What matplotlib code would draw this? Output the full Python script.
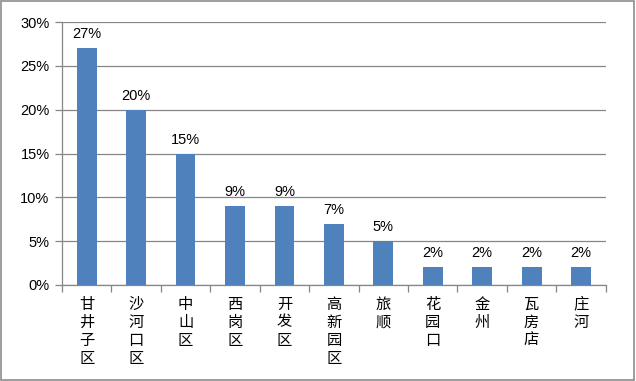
import matplotlib
matplotlib.use("Agg")
import matplotlib.pyplot as plt
from matplotlib.patches import Rectangle
from matplotlib.ticker import FixedLocator, NullFormatter

categories = ["甘井子区", "沙河口区", "中山区", "西岗区", "开发区", "高新园区", "旅顺", "花园口", "金州", "瓦房店", "庄河"]
values = [27, 20, 15, 9, 9, 7, 5, 2, 2, 2, 2]
yticks = [0, 5, 10, 15, 20, 25, 30]

plt.rcParams['font.family'] = ['Noto Sans CJK SC', 'DejaVu Sans']

fig = plt.figure(figsize=(6.36, 3.81), dpi=100)
fig.patches.append(Rectangle((0.002, 0.003), 0.995, 0.994, transform=fig.transFigure,
                             fill=False, edgecolor='#8c8c8c', linewidth=1.2))
ax = fig.add_axes([0.0975, 0.252, 0.855, 0.690])

x = list(range(len(categories)))
bars = ax.bar(x, values, width=0.4, color='#4F81BD', zorder=3)
for xi, v in zip(x, values):
    ax.text(xi, v + 0.8, f"{v}%", ha='center', va='bottom', fontsize=10.5,
            family=['Liberation Sans', 'DejaVu Sans'], color='black')

ax.set_xlim(-0.5, len(categories) - 0.5)
ax.set_ylim(0, 30)
ax.set_yticks(yticks)
ax.set_yticklabels([f"{t}%" for t in yticks], fontsize=10.5, family=['Liberation Sans', 'DejaVu Sans'])
ax.yaxis.grid(True, color='#868686', linewidth=0.9, zorder=0)
ax.set_axisbelow(True)

ax.xaxis.set_major_locator(FixedLocator([i - 0.5 for i in range(len(categories) + 1)]))
ax.xaxis.set_major_formatter(NullFormatter())
ax.tick_params(axis='x', length=5, color='#868686', width=0.9)
ax.tick_params(axis='y', length=5, color='#868686', width=0.9, pad=4)

for i, c in enumerate(categories):
    ax.text(i, -1.2, "\n".join(c), ha='center', va='top', fontsize=11,
            linespacing=1.08, transform=ax.transData)

for s in ['top', 'right']:
    ax.spines[s].set_visible(False)
for s in ['left', 'bottom']:
    ax.spines[s].set_color('#868686')
    ax.spines[s].set_linewidth(0.9)

fig.savefig("out.png", dpi=100)
